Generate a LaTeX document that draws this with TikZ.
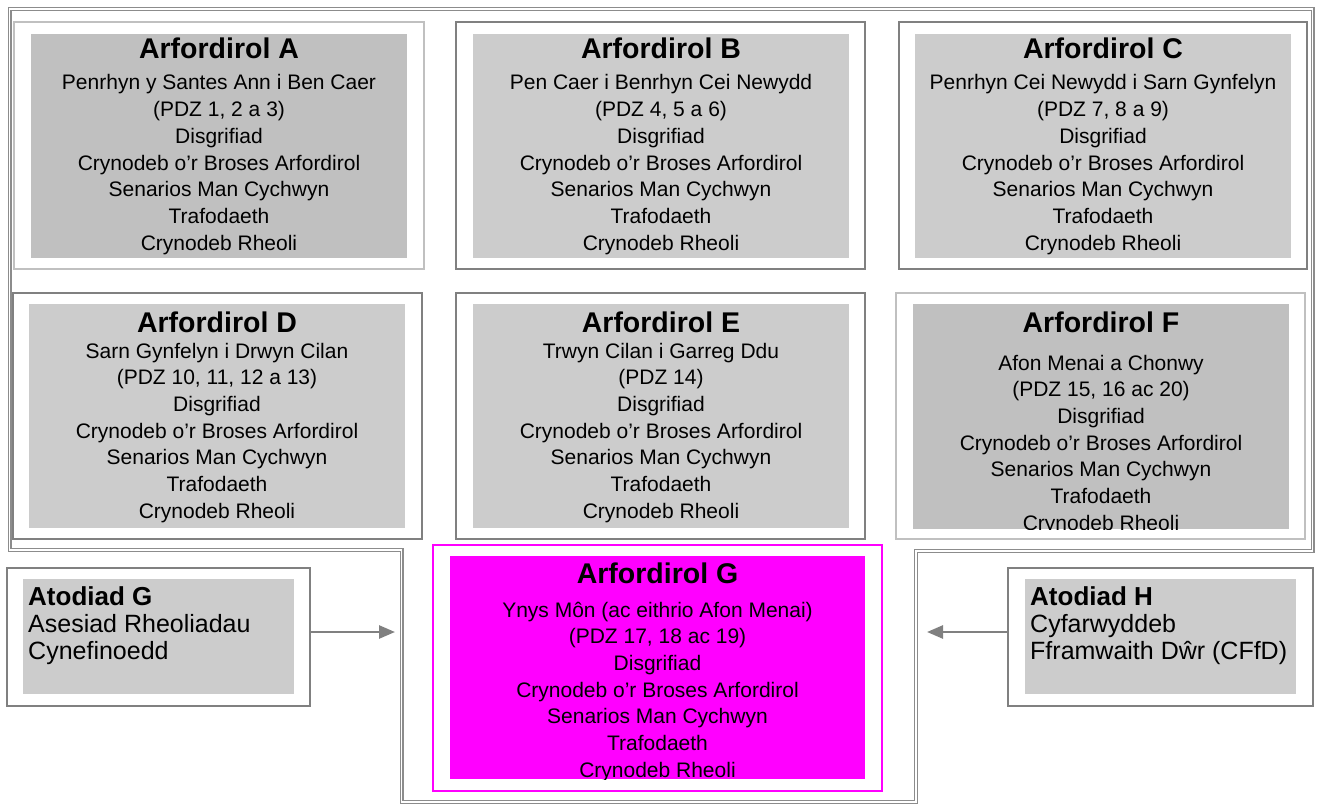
\documentclass[tikz,border=0pt]{standalone}
\usepackage{fontspec}
\setmainfont{Liberation Sans}
\usetikzlibrary{arrows.meta}
\definecolor{frameg}{HTML}{8C8C8C}
\definecolor{darkb}{HTML}{808080}
\definecolor{lightb}{HTML}{C0C0C0}
\definecolor{fillA}{HTML}{C0C0C0}
\definecolor{fillB}{HTML}{CCCCCC}
\definecolor{mag}{HTML}{FF00FF}
\newcommand\bodyset[4]{%
  \foreach \t [count=\i from 0] in {#4} {\node[bodytxt] (#1\i) at (#2,{#3+\i*26.67}) {\t};}}
\begin{document}
\begin{tikzpicture}[x=1pt,y=-1pt,
  boxbase/.style={inner sep=0pt,outer sep=0pt},
  outerlight/.style={boxbase,draw=lightb,line width=2pt},
  outerdark/.style={boxbase,draw=darkb,line width=2pt},
  outermag/.style={boxbase,draw=mag,line width=1.6pt},
  innerA/.style={boxbase,fill=fillA},
  innerB/.style={boxbase,fill=fillB},
  innerG/.style={boxbase,fill=mag},
  titletxt/.style={anchor=base,inner sep=0pt,font=\fontsize{28.5}{32}\selectfont\bfseries},
  bodytxt/.style={anchor=base,inner sep=0pt,font=\fontsize{21}{25}\selectfont},
  atitle/.style={anchor=base west,inner sep=0pt,font=\fontsize{26}{30}\selectfont\bfseries},
  abody/.style={anchor=base west,inner sep=0pt,font=\fontsize{25}{30}\selectfont},
  frame/.style={draw=frameg,line width=1.2pt,double=white,double distance=1.6pt},
  arr/.style={draw=darkb,line width=2.6pt,-{Triangle[length=16pt,width=13pt]}}
]
\useasboundingbox (0,0) rectangle (1321,805);

% outer double frame
\draw[frame] (9.5,9) -- (1312.5,9) -- (1312.5,551) -- (916,551) -- (916,802)
  -- (401.5,802) -- (401.5,550) -- (9.5,550) -- cycle;

% ---- Box A
\node[outerlight,minimum width=410pt,minimum height=247pt] (Ao) at (219,145.5) {};
\node[innerA,minimum width=376pt,minimum height=224pt] (Ai) at (219,146) {};
\begin{scope}
\clip (Ai.south west) rectangle (Ai.north east);
\node[titletxt] (At) at (219,59) {Arfordirol A};
\bodyset{A}{219}{90}{Penrhyn y Santes Ann i Ben Caer,{(PDZ 1, 2 a 3)},Disgrifiad,Crynodeb o’r Broses Arfordirol,Senarios Man Cychwyn,Trafodaeth,Crynodeb Rheoli}
\end{scope}

% ---- Box B
\node[outerdark,minimum width=409pt,minimum height=247pt] (Bo) at (660.5,145.5) {};
\node[innerB,minimum width=376pt,minimum height=224pt] (Bi) at (661,146) {};
\begin{scope}
\clip (Bi.south west) rectangle (Bi.north east);
\node[titletxt] (Bt) at (661,59) {Arfordirol B};
\bodyset{B}{661}{90}{Pen Caer i Benrhyn Cei Newydd,{(PDZ 4, 5 a 6)},Disgrifiad,Crynodeb o’r Broses Arfordirol,Senarios Man Cychwyn,Trafodaeth,Crynodeb Rheoli}
\end{scope}

% ---- Box C
\node[outerdark,minimum width=408pt,minimum height=247pt] (Co) at (1103,145.5) {};
\node[innerB,minimum width=376pt,minimum height=224pt] (Ci) at (1103,146) {};
\begin{scope}
\clip (Ci.south west) rectangle (Ci.north east);
\node[titletxt] (Ct) at (1103,59) {Arfordirol C};
\bodyset{C}{1103}{90}{Penrhyn Cei Newydd i Sarn Gynfelyn,{(PDZ 7, 8 a 9)},Disgrifiad,Crynodeb o’r Broses Arfordirol,Senarios Man Cychwyn,Trafodaeth,Crynodeb Rheoli}
\end{scope}

% ---- Box D
\node[outerdark,minimum width=409pt,minimum height=246pt] (Do) at (217.5,416) {};
\node[innerB,minimum width=376pt,minimum height=224pt] (Di) at (217,416) {};
\begin{scope}
\clip (Di.south west) rectangle (Di.north east);
\node[titletxt] (Dt) at (217,332) {Arfordirol D};
\bodyset{D}{217}{358}{Sarn Gynfelyn i Drwyn Cilan,{(PDZ 10, 11, 12 a 13)},Disgrifiad,Crynodeb o’r Broses Arfordirol,Senarios Man Cychwyn,Trafodaeth,Crynodeb Rheoli}
\end{scope}

% ---- Box E
\node[outerdark,minimum width=409pt,minimum height=246pt] (Eo) at (660.5,416) {};
\node[innerB,minimum width=376pt,minimum height=224pt] (Ei) at (661,416) {};
\begin{scope}
\clip (Ei.south west) rectangle (Ei.north east);
\node[titletxt] (Et) at (661,332) {Arfordirol E};
\bodyset{E}{661}{358}{Trwyn Cilan i Garreg Ddu,{(PDZ 14)},Disgrifiad,Crynodeb o’r Broses Arfordirol,Senarios Man Cychwyn,Trafodaeth,Crynodeb Rheoli}
\end{scope}

% ---- Box F
\node[outerlight,minimum width=409pt,minimum height=246pt] (Fo) at (1100.5,416) {};
\node[innerA,minimum width=376pt,minimum height=225pt] (Fi) at (1101,416.5) {};
\begin{scope}
\clip (Fi.south west) rectangle (Fi.north east);
\node[titletxt] (Ft) at (1101,332) {Arfordirol F};
\bodyset{F}{1101}{370}{Afon Menai a Chonwy,{(PDZ 15, 16 ac 20)},Disgrifiad,Crynodeb o’r Broses Arfordirol,Senarios Man Cychwyn,Trafodaeth,Crynodeb Rheoli}
\end{scope}

% ---- Box G
\node[outermag,minimum width=449pt,minimum height=246pt] (Go) at (657.5,668) {};
\node[innerG,minimum width=415pt,minimum height=223pt] (Gi) at (657.5,667.5) {};
\begin{scope}
\clip (Gi.south west) rectangle (Gi.north east);
\node[titletxt] (Gt) at (657.5,583) {Arfordirol G};
\bodyset{G}{657.5}{617}{Ynys Môn (ac eithrio Afon Menai),{(PDZ 17, 18 ac 19)},Disgrifiad,Crynodeb o’r Broses Arfordirol,Senarios Man Cychwyn,Trafodaeth,Crynodeb Rheoli}
\end{scope}

% ---- Atodiad G
\node[outerdark,minimum width=303pt,minimum height=138pt] (AGo) at (158.5,637) {};
\node[innerB,minimum width=271pt,minimum height=115pt] (AGi) at (158.5,636.5) {};
\node[atitle] (AGt) at (28,605) {Atodiad G};
\node[abody] (AG1) at (28,632) {Asesiad Rheoliadau};
\node[abody] (AG2) at (28,659) {Cynefinoedd};

% ---- Atodiad H
\node[outerdark,minimum width=305pt,minimum height=138pt] (AHo) at (1160.5,637) {};
\node[innerB,minimum width=271pt,minimum height=115pt] (AHi) at (1160.5,636.5) {};
\node[atitle] (AHt) at (1030,605) {Atodiad H};
\node[abody] (AH1) at (1030,632) {Cyfarwyddeb};
\node[abody] (AH2) at (1030,659) {Fframwaith Dŵr (CFfD)};

% ---- arrows
\coordinate (tipG) at (395,632);
\coordinate (tipH) at (927,632);
\draw[arr] (AGo.east |- tipG) -- (tipG);
\draw[arr] (AHo.west |- tipH) -- (tipH);
\end{tikzpicture}
\end{document}
